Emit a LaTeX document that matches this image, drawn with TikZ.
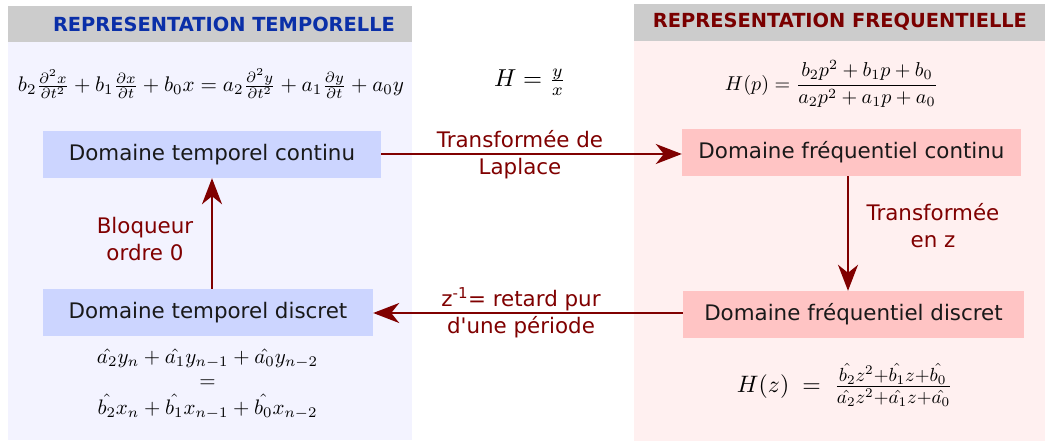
\documentclass[tikz,border=0pt]{standalone}
\usepackage[no-math]{fontspec}
\newfontfamily\dv{DejaVu Sans}
\setmainfont{DejaVu Sans}
\usepackage{graphicx}
\usetikzlibrary{arrows.meta}
\definecolor{panelL}{HTML}{F3F3FF}
\definecolor{panelR}{HTML}{FFF0F0}
\definecolor{bar}{HTML}{CCCCCC}
\definecolor{titleL}{HTML}{0A2FA8}
\definecolor{titleR}{HTML}{7A0000}
\definecolor{boxL}{HTML}{CCD5FF}
\definecolor{boxR}{HTML}{FFC4C4}
\definecolor{darkred}{HTML}{800000}
\tikzset{
  dombox/.style={minimum height=47pt,inner sep=0pt,font=\dv\fontsize{21.4}{24}\selectfont,text=black!90},
  conn/.style={darkred,line width=2pt,-{Stealth[length=26pt,width=20pt,inset=8pt]}},
  lbl/.style={darkred,align=center,inner sep=0pt,font=\dv\fontsize{21.4}{27}\selectfont},
  ttl/.style={font=\dv\fontsize{19.4}{22}\selectfont\bfseries,inner sep=0pt},
  eq/.style={inner sep=0pt}
}
\begin{document}
\begin{tikzpicture}[x=1pt,y=-1pt]
\useasboundingbox (0,0) rectangle (1045,441);
\fill[white] (0,0) rectangle (1045,441);
% panels
\fill[panelL] (8,6) rectangle (412,440);
\fill[bar] (8,6) rectangle (412,42);
\fill[panelR] (634,4) rectangle (1045,441);
\fill[bar] (634,4) rectangle (1045,41);
\node[ttl,text=titleL] (tl) at (224,24) {REPRESENTATION TEMPORELLE};
\node[ttl,text=titleR] (tr) at (840,22) {REPRESENTATION FREQUENTIELLE};
% equations
\node[eq] (eqt) at (211,84) {\resizebox{386pt}{!}{$b_2\frac{\partial^2 x}{\partial t^2}+b_1\frac{\partial x}{\partial t}+b_0x=a_2\frac{\partial^2 y}{\partial t^2}+a_1\frac{\partial y}{\partial t}+a_0y$}};
\node[eq] (eqh) at (530,82) {\resizebox{72pt}{!}{$H=\frac{y}{x}$}};
\node[eq] (eqp) at (831.5,84) {\resizebox{213pt}{!}{$\displaystyle H(p)=\frac{b_2p^2+b_1p+b_0}{a_2p^2+a_1p+a_0}$}};
\node[eq] (eqd) at (207.5,384) {\resizebox{221pt}{!}{$\begin{array}{@{}c@{}}\hat{a_2}y_n+\hat{a_1}y_{n-1}+\hat{a_0}y_{n-2}\\[-0.5pt]=\\[-0.5pt]\hat{b_2}x_n+\hat{b_1}x_{n-1}+\hat{b_0}x_{n-2}\end{array}$}};
\node[eq] (eqz) at (845,385) {\resizebox{216pt}{!}{$H(z)\;=\;\frac{\scalebox{0.8}{$\hat{b_2}z^2{+}\hat{b_1}z{+}\hat{b_0}\rule[-1.8pt]{0pt}{2pt}$}}{\scalebox{0.8}{$\rule{0pt}{8.5pt}\hat{a_2}z^2{+}\hat{a_1}z{+}\hat{a_0}$}}$}};
% domain boxes
\node[dombox,fill=boxL,minimum width=338pt] (TC) at (212,154.5) {Domaine temporel continu};
\node[dombox,fill=boxR,minimum width=339pt] (FC) at (851.5,152.5) {Domaine fréquentiel continu};
\node[dombox,fill=boxL,minimum width=330pt] (TD) at (208,312.5) {Domaine temporel discret};
\node[dombox,fill=boxR,minimum width=341pt] (FD) at (853.5,314.5) {Domaine fréquentiel discret};
% connectors
\draw[conn] (TC.east |- 0,154) -- (FC.west |- 0,154);
\draw[conn] ([xshift=-3.5pt]FC.south) -- ([xshift=-3.5pt]FC.south |- FD.north);
\draw[conn] (FD.west |- 0,313) -- (TD.east |- 0,313);
\draw[conn] (TC.south |- TD.north) -- (TC.south);
% labels
\node[lbl] (l1) at (520,155) {Transformée de\\Laplace};
\node[lbl] (l2) at (933,226) {Transformée\\en z};
\node[lbl] (l3) at (521,313) {z\textsuperscript{-1}= retard pur\\d'une période};
\node[lbl] (l4) at (145,239) {Bloqueur\\ordre 0};
\end{tikzpicture}
\end{document}
